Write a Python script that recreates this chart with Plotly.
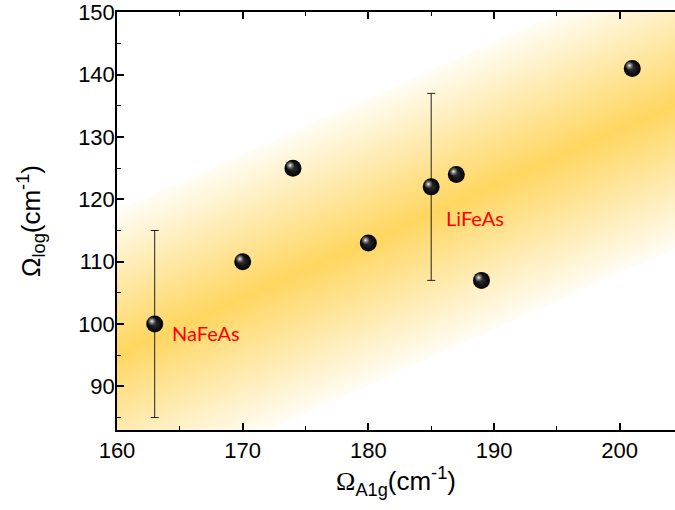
import numpy as np
import plotly.graph_objects as go

# ---- data ----
x_vals = [163, 170, 174, 180, 185, 187, 189, 201]
y_vals = [100, 110, 125, 113, 122, 124, 107, 141]
err_vals = [15, 0, 0, 0, 15, 0, 0, 0]
labels = ["NaFeAs", "LiFeAs"]
label_x = [164.2, 186.0]
label_y = [98.5, 117.0]
x_ticks = [160, 170, 180, 190, 200]
y_ticks = [90, 100, 110, 120, 130, 140, 150]

x_range = [160, 204.4]
y_range = [83, 150.05]

# band (guide-to-the-eye) parameters
band_slope = 0.9
band_intercept = -48.7
band_halfwidth = 23.0

# ---- background band as heatmap ----
gx = np.linspace(158, 206, 200)
gy = np.linspace(80, 152, 300)
GX, GY = np.meshgrid(gx, gy)
d = np.abs(GY - (band_slope * GX + band_intercept)) / band_halfwidth
Z = np.clip(1 - d, 0, 1)
Z = np.where(d < 1, 0.06 + 0.94 * Z, 0)

fig = go.Figure()
fig.add_trace(go.Heatmap(
    x=gx, y=gy, z=Z, zmin=0, zmax=1, zsmooth="best",
    colorscale=[[0, "#ffffff"], [1, "#ffd660"]],
    showscale=False, hoverinfo="skip"))

# error bars
ex = [x for x, e in zip(x_vals, err_vals) if e > 0]
ey = [y for y, e in zip(y_vals, err_vals) if e > 0]
ee = [e for e in err_vals if e > 0]
fig.add_trace(go.Scatter(
    x=ex, y=ey, mode="markers", marker=dict(size=1, color="rgba(0,0,0,0)"),
    error_y=dict(type="data", array=ee, visible=True, color="#222222",
                 thickness=1, width=4),
    hoverinfo="skip", showlegend=False))

# spheres
fig.add_trace(go.Scatter(
    x=x_vals, y=y_vals, mode="markers",
    marker=dict(size=17, color="#000000",
                gradient=dict(type="radial", color="#303030"),
                line=dict(width=0)),
    showlegend=False))
px_x = (x_range[1] - x_range[0]) / 558.0
px_y = (y_range[1] - y_range[0]) / 420.0
fig.add_trace(go.Scatter(
    x=[x - 2.8 * px_x for x in x_vals], y=[y + 2.8 * px_y for y in y_vals],
    mode="markers",
    marker=dict(size=8, color="rgba(90,90,90,0.4)",
                gradient=dict(type="radial", color="#f8f8f8"),
                line=dict(width=0)),
    hoverinfo="skip", showlegend=False))

for t, lx, ly in zip(labels, label_x, label_y):
    fig.add_annotation(x=lx, y=ly, text=t, showarrow=False, xanchor="left",
                       yanchor="middle",
                       font=dict(family="Lato", size=20, color="#ff0000"))

axis_common = dict(
    showline=True, linecolor="#000", linewidth=1.5,
    ticks="inside", ticklen=7, tickwidth=1.5, tickcolor="#000",
    showgrid=False, zeroline=False, tickmode="array",
    ticklabeloverflow="allow",
    tickfont=dict(family="Arial, Liberation Sans", size=22, color="#000"),
    minor=dict(ticks="inside", ticklen=4, tickwidth=1.2, tickcolor="#000",
               showgrid=False, dtick=5),
)

fig.update_layout(
    width=675, height=510,
    margin=dict(l=117, r=0, t=10, b=80),
    paper_bgcolor="white", plot_bgcolor="white",
    xaxis=dict(range=x_range, tickvals=x_ticks, mirror="ticks",
               title=dict(text="<span style='font-family:Liberation Serif'>Ω</span><sub>A1g</sub>(cm<sup>-1</sup>)",
                          font=dict(family="Arial, Liberation Sans", size=26, color="#000"),
                          standoff=10),
               **axis_common),
    yaxis=dict(range=y_range, tickvals=y_ticks, mirror=False,
               ticklabelstandoff=-4,
               title=dict(text="Ω<sub>log</sub>(cm<sup>-1</sup>)",
                          font=dict(family="Arial, Liberation Sans", size=26, color="#000"),
                          standoff=30),
               **axis_common),
)

fig.write_html("out.html")
